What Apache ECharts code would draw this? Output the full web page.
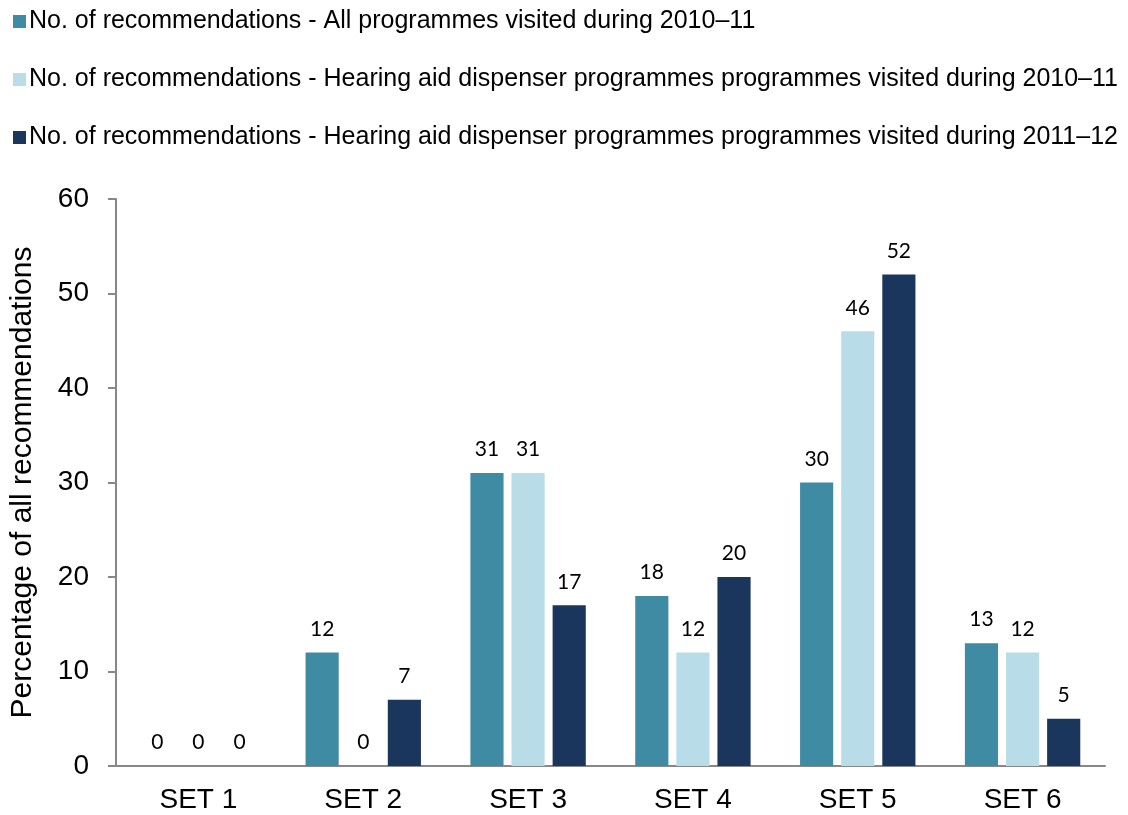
<!DOCTYPE html>
<html>
<head>
<meta charset="utf-8">
<script src="https://cdn.jsdelivr.net/npm/echarts@6/dist/echarts.min.js"></script>
<style>
  html, body { margin: 0; padding: 0; background: #fff; }
  #chart { width: 1128px; height: 815px; }
</style>
</head>
<body>
<div id="chart"></div>
<script>
var categories = ['SET 1', 'SET 2', 'SET 3', 'SET 4', 'SET 5', 'SET 6'];
var seriesNames = [
  'No. of recommendations - All programmes visited during 2010\u201311',
  'No. of recommendations - Hearing aid dispenser programmes programmes visited during 2010\u201311',
  'No. of recommendations - Hearing aid dispenser programmes programmes visited during 2011\u201312'
];
var allProgs1011 = [0, 12, 31, 18, 30, 13];
var hearing1011 = [0, 0, 31, 12, 46, 12];
var hearing1112 = [0, 7, 17, 20, 52, 5];
var colors = ['#3E8BA3', '#B8DDE8', '#1B365D'];

var chart = echarts.init(document.getElementById('chart'));

function barSeries (name, data, color) {
  return {
    name: name,
    type: 'bar',
    data: data,
    barGap: '24%',
    barCategoryGap: '30%',
    itemStyle: { color: color },
    label: {
      show: true,
      position: 'top',
      distance: 13,
      color: '#000',
      fontFamily: 'Lato',
      fontSize: 21
    }
  }
}

var option = {
  animation: false,
  color: colors,
  legend: {
    orient: 'vertical',
    left: 8,
    top: 4,
    itemWidth: 13,
    itemHeight: 13,
    itemGap: 33,
    icon: 'rect',
    textStyle: {
      fontFamily: 'Liberation Sans',
      fontSize: 25,
      color: '#000',
      padding: [0, 0, 0, -2]
    },
    data: seriesNames
  },
  grid: {
    left: 113,
    right: 23,
    top: 199,
    bottom: 49,
    containLabel: false
  },
  xAxis: {
    type: 'category',
    data: categories,
    axisLine: { lineStyle: { color: '#888', width: 2 } },
    axisTick: { show: false },
    axisLabel: {
      color: '#000',
      fontFamily: 'Liberation Sans',
      fontSize: 28,
      margin: 20
    }
  },
  yAxis: {
    type: 'value',
    min: 0,
    max: 60,
    interval: 10,
    name: 'Percentage of all recommendations',
    nameLocation: 'middle',
    nameGap: 78,
    nameRotate: 90,
    nameTextStyle: {
      color: '#000',
      fontFamily: 'Liberation Sans',
      fontSize: 30
    },
    axisLine: { show: true, lineStyle: { color: '#888', width: 2 } },
    axisTick: { show: true, length: 8, lineStyle: { color: '#888', width: 2 } },
    splitLine: { show: false },
    axisLabel: {
      color: '#000',
      fontFamily: 'Liberation Sans',
      fontSize: 28,
      margin: 27
    }
  },
  series: [
    barSeries(seriesNames[0], allProgs1011, colors[0]),
    barSeries(seriesNames[1], hearing1011, colors[1]),
    barSeries(seriesNames[2], hearing1112, colors[2])
  ]
};

chart.setOption(option);
</script>
</body>
</html>
